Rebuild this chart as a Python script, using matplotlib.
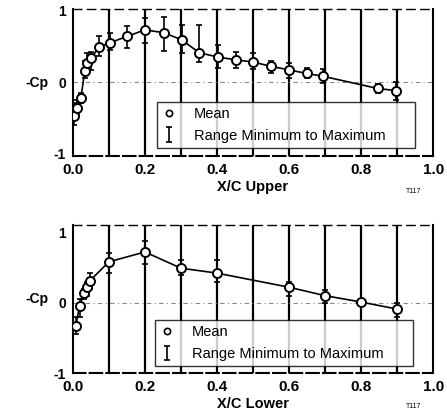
import numpy as np
import matplotlib.pyplot as plt
from matplotlib.lines import Line2D

plt.rcParams['font.family'] = ['Liberation Sans', 'DejaVu Sans']

# upper surface
x_up = [0.003, 0.012, 0.022, 0.033, 0.04, 0.05, 0.073, 0.103, 0.151, 0.2, 0.253,
        0.302, 0.351, 0.402, 0.453, 0.5, 0.55, 0.6, 0.649, 0.695, 0.846, 0.896]
cp_up = [-0.48, -0.37, -0.23, 0.15, 0.26, 0.33, 0.49, 0.55, 0.64, 0.73, 0.69,
         0.59, 0.41, 0.35, 0.31, 0.28, 0.22, 0.17, 0.12, 0.08, -0.09, -0.12]
min_up = [-0.6, -0.45, -0.3, 0.05, 0.15, 0.17, 0.36, 0.45, 0.48, 0.54, 0.43,
          0.4, 0.28, 0.2, 0.2, 0.18, 0.12, 0.05, 0.05, -0.02, -0.15, -0.25]
max_up = [-0.3, -0.25, -0.15, 0.3, 0.4, 0.42, 0.64, 0.68, 0.78, 0.89, 0.91,
          0.8, 0.8, 0.52, 0.42, 0.4, 0.3, 0.27, 0.2, 0.18, -0.03, 0.0]

# lower surface
x_lo = [0.008, 0.019, 0.031, 0.04, 0.047, 0.1, 0.2, 0.3, 0.4, 0.6, 0.7, 0.8, 0.9]
cp_lo = [-0.33, -0.04, 0.14, 0.22, 0.31, 0.58, 0.72, 0.49, 0.42, 0.22, 0.1, 0.01, -0.09]
min_lo = [-0.45, -0.2, 0.05, 0.1, 0.2, 0.42, 0.55, 0.4, 0.3, 0.1, 0.0, -0.05, -0.2]
max_lo = [-0.2, 0.05, 0.2, 0.3, 0.42, 0.7, 0.87, 0.6, 0.6, 0.3, 0.18, 0.05, 0.0]

xticks = [0.0, 0.2, 0.4, 0.6, 0.8, 1.0]
xtick_labels = ['0.0', '0.2', '0.4', '0.6', '0.8', '1.0']
grid_x = [0.1, 0.2, 0.3, 0.4, 0.5, 0.6, 0.7, 0.8, 0.9]


def panel(ax, x, cp, lo, hi, xlabel, ylim, legend_box):
    for gx in grid_x:
        ax.axvline(gx, color='black', lw=1.6, zorder=1)
    ax.axhline(0, color='#888888', lw=0.8, ls=(0, (4, 3, 1, 3)), zorder=1)
    x = np.array(x)
    cp = np.array(cp)
    yerr = [cp - np.array(lo), np.array(hi) - cp]
    ax.errorbar(x, cp, yerr=yerr, fmt='none', ecolor='black', elinewidth=1.2,
                capsize=2.5, capthick=1.2, zorder=3)
    ax.plot(x, cp, color='black', lw=1.2, zorder=3)
    ax.plot(x, cp, 'o', ms=6.5, mfc='white', mec='black', mew=1.4, zorder=4)

    # proxy handles for the legend, drawn outside the visible range
    h_range = ax.errorbar([-5], [0], yerr=[[0.5], [0.5]], fmt='none', ecolor='black',
                          elinewidth=1.2, capsize=2.5, capthick=1.2)
    h_mean = Line2D([], [], ls='none', marker='o', ms=4.5, mfc='white', mec='black', mew=1.2)

    ax.set_xlim(0, 1.0)
    ax.set_ylim(*ylim)
    ax.set_xticks(xticks)
    ax.set_xticklabels(xtick_labels, fontsize=11, fontweight='bold')
    ax.set_yticks([-1, 0, 1])
    ax.set_yticklabels(['-1', '0', '1'], fontsize=10, fontweight='bold')
    ax.tick_params(length=0, pad=5)
    ax.set_xlabel(xlabel, fontsize=10.5, fontweight='bold', labelpad=2)
    ax.set_ylabel('-Cp', fontsize=10, fontweight='bold', rotation=0, labelpad=12,
                  va='center')
    for s in ax.spines.values():
        s.set_linewidth(1.5)
    ax.spines['top'].set_linestyle((0, (6, 4)))
    ax.spines['top'].set_linewidth(1.0)
    ax.spines['bottom'].set_linestyle((0, (6, 2)))

    leg = ax.legend([h_mean, h_range], ['Mean', 'Range Minimum to Maximum'],
                    loc='lower left', bbox_to_anchor=legend_box, mode='expand',
                    borderaxespad=0, fontsize=10.5, frameon=True, fancybox=False,
                    edgecolor='black', borderpad=0.35, handlelength=1.0,
                    handletextpad=1.2, labelspacing=0.55)
    leg.get_frame().set_linewidth(1.0)
    leg.set_zorder(5)


fig = plt.figure(figsize=(4.47, 4.17), dpi=100)
ax1 = fig.add_axes([0.163, 0.626, 0.806, 0.352])
ax2 = fig.add_axes([0.163, 0.105, 0.806, 0.355])

panel(ax1, x_up, cp_up, min_up, max_up, 'X/C Upper', (-1.035, 1.02),
      (0.233, 0.056, 0.717, 0.31))
panel(ax2, x_lo, cp_lo, min_lo, max_lo, 'X/C Lower', (-0.99, 1.1),
      (0.228, 0.048, 0.716, 0.31))

fig.text(0.908, 0.537, 'T117', fontsize=5)
fig.text(0.908, 0.022, 'T117', fontsize=5)

fig.savefig('out.png', dpi=100)
